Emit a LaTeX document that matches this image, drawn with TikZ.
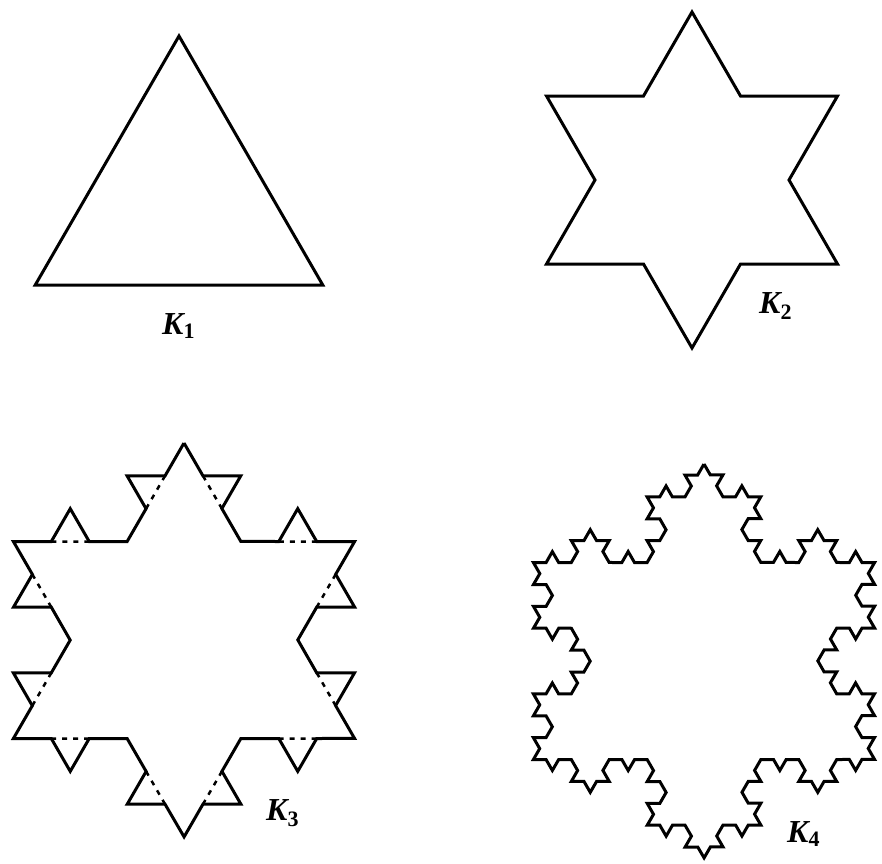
\documentclass[tikz,border=0pt]{standalone}
\usepackage{fontspec}
\setmainfont{Liberation Serif}
\usetikzlibrary{decorations.fractals,calc}
\begin{document}
\begin{tikzpicture}[x=1pt,y=1pt,line join=miter,
  curve/.style={line width=3pt},
  basedash/.style={line width=2.5pt,dash pattern=on 5pt off 6pt},
  lab/.style={anchor=base west,inner sep=0pt,font=\fontsize{32}{32}\selectfont\bfseries\itshape}]
\useasboundingbox (0,0) rectangle (882,-863);
% K1
\begin{scope}[shift={(179,-202)}]
  \draw[curve] (90:166) -- (210:166) -- (330:166) -- cycle;
\end{scope}
% K2
\begin{scope}[shift={(692,-180)}]
  \foreach \i in {0,...,11}{
    \pgfmathsetmacro\rr{ifthenelse(mod(\i,2)==0,168,97.0)}
    \coordinate (a\i) at ({90-30*\i}:\rr);
  }
\end{scope}
\draw[curve] (a0)--(a1)--(a2)--(a3)--(a4)--(a5)--(a6)--(a7)--(a8)--(a9)--(a10)--(a11)--cycle;
% K3
\begin{scope}[shift={(184,-640)}]
  \foreach \i in {0,...,11}{
    \pgfmathsetmacro\rr{ifthenelse(mod(\i,2)==0,197,113.74)}
    \coordinate (b\i) at ({90-30*\i}:\rr);
  }
\end{scope}
\draw[curve,decoration=Koch snowflake] decorate{(b0)--(b1)--(b2)--(b3)--(b4)--(b5)--(b6)--(b7)--(b8)--(b9)--(b10)--(b11)--cycle};
\foreach \i [evaluate=\i as \j using {int(mod(\i+1,12))}] in {0,...,11}
  \draw[basedash] ($(b\i)!1/3!(b\j)$) -- ($(b\i)!2/3!(b\j)$);
% K4
\begin{scope}[shift={(704,-661)}]
  \foreach \i in {0,...,11}{
    \pgfmathsetmacro\rr{ifthenelse(mod(\i,2)==0,197,113.74)}
    \coordinate (c\i) at ({90-30*\i}:\rr);
  }
\end{scope}
\draw[curve,decoration=Koch snowflake] decorate{decorate{(c0)--(c1)--(c2)--(c3)--(c4)--(c5)--(c6)--(c7)--(c8)--(c9)--(c10)--(c11)--cycle}};
% labels
\node[lab] (l1) at (162,-334) {K\raisebox{-4pt}{\fontsize{22}{22}\selectfont\upshape 1}};
\node[lab] (l2) at (759,-313) {K\raisebox{-6pt}{\fontsize{22}{22}\selectfont\upshape 2}};
\node[lab] (l3) at (266,-820) {K\raisebox{-6pt}{\fontsize{22}{22}\selectfont\upshape 3}};
\node[lab] (l4) at (787,-842) {K\raisebox{-4pt}{\fontsize{22}{22}\selectfont\upshape 4}};
\end{tikzpicture}
\end{document}
